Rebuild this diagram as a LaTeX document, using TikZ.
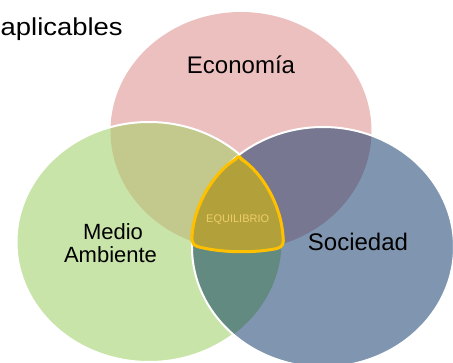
\documentclass[tikz,border=0pt]{standalone}
\usepackage{fontspec}
\usepackage{graphicx}
\setmainfont{Liberation Sans}
\definecolor{pinkC}{HTML}{EDC0C0}
\definecolor{greenC}{HTML}{C9E4A9}
\definecolor{gpC}{HTML}{C3C98C}
\definecolor{blueC}{HTML}{8096B0}
\definecolor{bpC}{HTML}{777792}
\definecolor{bgC}{HTML}{638A80}
\definecolor{centerC}{HTML}{B2A03A}
\definecolor{goldC}{HTML}{FFC000}
\definecolor{eqC}{HTML}{EFCD6E}
\tikzset{
  lbl/.style={inner sep=0pt, anchor=base, text=black},
  border/.style={draw=white, line width=2pt},
}
\begin{document}
\begin{tikzpicture}[x=1pt,y=-1pt]
\useasboundingbox (0,0) rectangle (453,363);
\def\Ppath{(241,131) ellipse [x radius=130.5, y radius=119]}
\def\Gpath{(149,242) ellipse [x radius=132.5, y radius=120]}
\def\Bpath{(323,247) ellipse [x radius=131, y radius=120]}
% economy
\fill[pinkC] \Ppath;
% environment
\fill[greenC] \Gpath;
\begin{scope}
  \clip \Ppath;
  \fill[gpC] \Gpath;
\end{scope}
\draw[border] \Gpath;
% society
\fill[blueC] \Bpath;
\begin{scope}
  \clip \Ppath;
  \fill[bpC] \Bpath;
\end{scope}
\begin{scope}
  \clip \Gpath;
  \fill[bgC] \Bpath;
\end{scope}
\begin{scope}
  \clip \Gpath;
  \clip \Ppath;
  \fill[centerC] \Bpath;
\end{scope}
\draw[border] \Bpath;
% equilibrium shape
\path[fill=centerC, draw=goldC, line width=3pt, line join=round]
  (236,159) .. controls (214,172) and (194,205) .. (192,236)
  .. controls (191.5,244) and (194,246) .. (201,247.5)
  .. controls (225,253) and (255,253) .. (277,248.5)
  .. controls (283,247) and (284,243) .. (283,236)
  .. controls (281,205) and (262,172) .. (241,159)
  .. controls (239.5,156) and (237.5,156) .. (236,159) -- cycle;
% labels
\node[lbl, anchor=base west] (apl) at (0.5,36) {\fontsize{24.5}{28}\selectfont\scalebox{1.12}[1]{aplicables}};
\node[lbl] (eco) at (241,73.3) {\fontsize{24}{28}\selectfont Econom\'{\i}a};
\node[lbl] (med) at (113,239.3) {\fontsize{22}{26}\selectfont Medio};
\node[lbl] (amb) at (110.5,262.7) {\fontsize{22}{26}\selectfont Ambiente};
\node[lbl] (soc) at (358,251) {\fontsize{24}{28}\selectfont Sociedad};
\node[lbl, text=eqC] (equ) at (237.7,222.3) {\fontsize{11}{13}\selectfont EQUILIBRIO};
\end{tikzpicture}
\end{document}
